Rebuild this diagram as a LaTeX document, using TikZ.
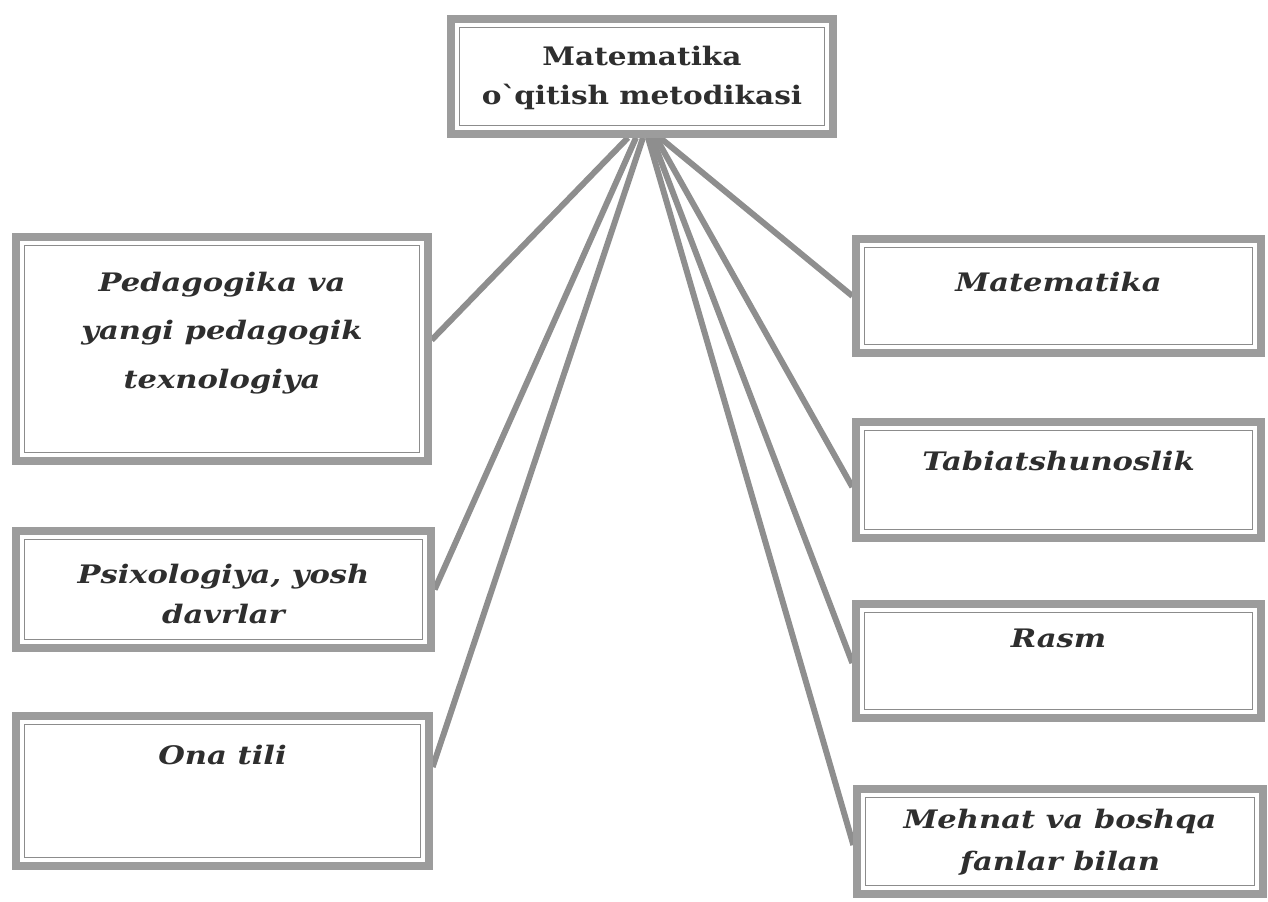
\documentclass[tikz,border=0pt]{standalone}
\usepackage{fontspec}
\setmainfont{DejaVu Serif}
\newfontfamily\titlefont[FakeStretch=1.16]{DejaVu Serif}
\newfontfamily\labelfont[FakeStretch=1.2]{DejaVu Serif}
\usetikzlibrary{backgrounds,calc}
\definecolor{bordergray}{HTML}{9C9C9C}
\definecolor{innergray}{HTML}{8C8C8C}
\definecolor{linkgray}{HTML}{8E8E8E}
\definecolor{textgray}{HTML}{2E2E2E}
\tikzset{
  framebox/.style={draw=bordergray, line width=4.2pt, fill=white, inner sep=0pt,
    path picture={\draw[innergray, line width=1pt]
      ([shift={(0.17cm,-0.17cm)}]path picture bounding box.north west) rectangle
      ([shift={(-0.17cm,0.17cm)}]path picture bounding box.south east);}},
  boxtext/.style={align=center, text=textgray, font=\labelfont\fontsize{14.5}{28}\selectfont\bfseries\itshape},
  link/.style={draw=linkgray, line width=3.4pt}
}
\begin{document}
\begin{tikzpicture}[x=0.02cm,y=-0.02cm]
\useasboundingbox (0,0) rectangle (1268,902);
% boxes
\node[framebox, minimum width=7.64cm, minimum height=2.3cm] (top) at (642,76.5) {};
\node[framebox, minimum width=8.24cm, minimum height=4.48cm] (ped) at (222,349) {};
\node[framebox, minimum width=8.3cm, minimum height=2.34cm] (psix) at (223.5,589.5) {};
\node[framebox, minimum width=8.26cm, minimum height=3.0cm] (ona) at (222.5,791) {};
\node[framebox, minimum width=8.1cm, minimum height=2.28cm] (mat) at (1058.5,296) {};
\node[framebox, minimum width=8.1cm, minimum height=2.32cm] (tab) at (1058.5,480) {};
\node[framebox, minimum width=8.1cm, minimum height=2.28cm] (rasm) at (1058.5,661) {};
\node[framebox, minimum width=8.12cm, minimum height=2.1cm] (meh) at (1060,841.5) {};
% texts
\node[align=center, text=textgray, font=\titlefont\fontsize{14.5}{22.7}\selectfont\bfseries] (toptext) at (642,78)
  {Matematika\\o\textasciigrave qitish metodikasi};
\node[boxtext, font=\labelfont\fontsize{14.5}{27.8}\selectfont\bfseries\itshape] (pedtext) at (222,333)
  {Pedagogika va\\yangi pedagogik\\texnologiya};
\node[boxtext, font=\labelfont\fontsize{14.5}{22.7}\selectfont\bfseries\itshape] (psixtext) at (223.5,594)
  {Psixologiya, yosh\\davrlar};
\node[boxtext] (onatext) at (222.5,755) {Ona tili};
\node[boxtext] (mattext) at (1058.5,282) {Matematika};
\node[boxtext] (tabtext) at (1058.5,461) {Tabiatshunoslik};
\node[boxtext] (rasmtext) at (1058.5,638) {Rasm};
\node[boxtext, font=\labelfont\fontsize{14.5}{23.8}\selectfont\bfseries\itshape] (mehtext) at (1060,842)
  {Mehnat va boshqa\\fanlar bilan};
% connectors
\begin{scope}[on background layer]
\draw[link] ([xshift=-0.28cm]top.south) -- ([yshift=0.18cm]ped.east);
\draw[link] ([xshift=-0.12cm]top.south) -- (psix.east);
\draw[link] ([xshift=0.02cm]top.south) -- ([yshift=0.48cm]ona.east);
\draw[link] ([xshift=0.12cm]top.south) -- ([yshift=-0.07cm]meh.west);
\draw[link] ([xshift=0.2cm]top.south) -- ([yshift=-0.04cm]rasm.west);
\draw[link] ([xshift=0.28cm]top.south) -- ([yshift=-0.14cm]tab.west);
\draw[link] ([xshift=0.36cm]top.south) -- (mat.west);
\end{scope}
\end{tikzpicture}
\end{document}
